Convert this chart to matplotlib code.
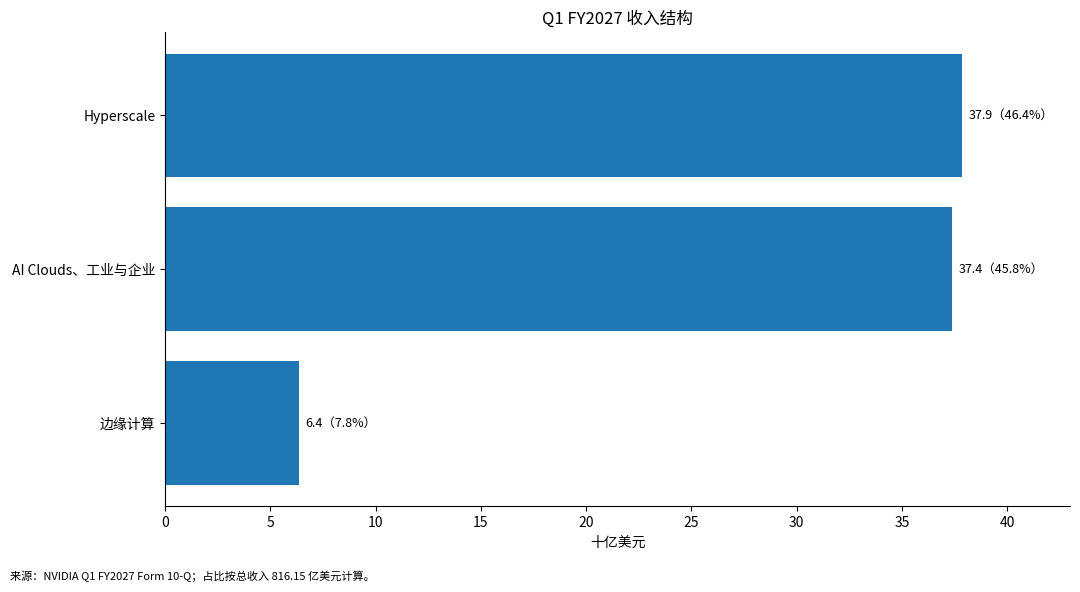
import matplotlib
matplotlib.use('Agg')
import matplotlib.pyplot as plt

plt.rcParams['font.family'] = ['Noto Sans CJK SC', 'DejaVu Sans']

# 数据（十亿美元）
segments = ['Hyperscale', 'AI Clouds、工业与企业', '边缘计算']
revenue = [37.87, 37.38, 6.37]
total = 81.615

fig, ax = plt.subplots(figsize=(10.8, 5.92), dpi=100)
fig.subplots_adjust(left=0.153, right=0.991, top=0.946, bottom=0.145)

ax.barh(segments, revenue, height=0.8, color='#1f77b4')
ax.invert_yaxis()
ax.set_xlim(0, 43)

for i, v in enumerate(revenue):
    ax.text(v + 0.3, i, f'{v:.1f}（{v / total * 100:.1f}%）', va='center', fontsize=9)

ax.set_title('Q1 FY2027 收入结构', fontsize=12)
ax.set_xlabel('十亿美元', fontsize=10)
ax.tick_params(labelsize=10)
ax.spines['top'].set_visible(False)
ax.spines['right'].set_visible(False)

fig.text(0.009, 0.02, '来源：NVIDIA Q1 FY2027 Form 10-Q；占比按总收入 816.15 亿美元计算。', fontsize=8)

plt.savefig('out.png', dpi=100)
